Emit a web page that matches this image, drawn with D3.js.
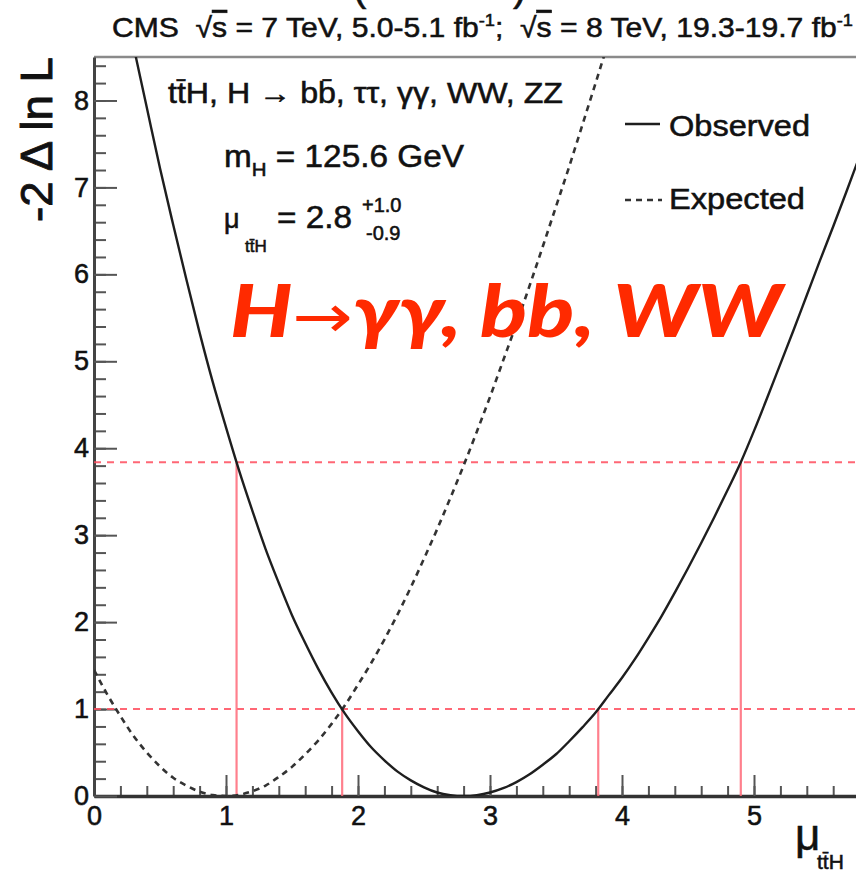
<!DOCTYPE html>
<html>
<head>
<meta charset="utf-8">
<script src="https://cdn.jsdelivr.net/npm/d3@7"></script>
<style>
  body { margin: 0; background: #fff; }
  svg { display: block; }
  text { font-family: "Liberation Sans", Arial, Helvetica, sans-serif; white-space: pre; }
  .ink { fill: #111; stroke: #111; stroke-width: 0.55px; }
</style>
</head>
<body>
<svg id="chart" width="856" height="875"></svg>
<script>
// Profile likelihood scan, -2 Δ ln L versus the ttH signal strength
const muObserved = [0.3, 0.4, 0.5, 0.6, 0.7, 0.8, 0.9, 1.0, 1.1, 1.2, 1.3, 1.4, 1.5, 1.6, 1.7, 1.8, 1.9, 2.0,
  2.1, 2.2, 2.3, 2.4, 2.5, 2.6, 2.7, 2.8, 2.9, 3.0, 3.1, 3.2, 3.3, 3.4, 3.5, 3.6, 3.7, 3.8, 3.9, 4.0,
  4.1, 4.2, 4.3, 4.4, 4.5, 4.6, 4.7, 4.8, 4.9, 5.0, 5.1, 5.2, 5.3, 5.4, 5.5, 5.6, 5.7, 5.8, 5.9, 6.0];
const nllObserved = [8.62, 7.92, 7.22, 6.57, 5.94, 5.33, 4.76, 4.24, 3.74, 3.28, 2.84, 2.45, 2.08, 1.76, 1.46, 1.19, 0.95, 0.745,
  0.56, 0.41, 0.28, 0.18, 0.10, 0.04, 0.01, 0.0, 0.01, 0.04, 0.09, 0.16, 0.25, 0.36, 0.48, 0.63, 0.79, 0.96, 1.16, 1.36,
  1.58, 1.82, 2.07, 2.34, 2.62, 2.91, 3.21, 3.52, 3.84, 4.20, 4.58, 4.97, 5.36, 5.76, 6.16, 6.55, 6.95, 7.36, 7.78, 8.20];

const muExpected = [0.0, 0.1, 0.2, 0.3, 0.4, 0.5, 0.6, 0.7, 0.8, 0.9, 1.0, 1.1, 1.2, 1.3, 1.4, 1.5, 1.6, 1.7, 1.8, 1.9,
  2.0, 2.1, 2.2, 2.3, 2.4, 2.5, 2.6, 2.7, 2.8, 2.9, 3.0, 3.1, 3.2, 3.3, 3.4, 3.5, 3.6, 3.7, 3.8, 3.9];
const nllExpected = [1.45, 1.17, 0.92, 0.69, 0.50, 0.34, 0.21, 0.12, 0.05, 0.01, 0.0, 0.014, 0.055, 0.12, 0.22, 0.335, 0.48, 0.64, 0.83, 1.04,
  1.28, 1.53, 1.80, 2.09, 2.40, 2.73, 3.07, 3.43, 3.80, 4.19, 4.59, 5.01, 5.43, 5.87, 6.32, 6.78, 7.24, 7.72, 8.20, 8.69];

// 68% and 95% CL thresholds and where the observed curve crosses them
const clLevels = [1, 3.84];
const intervalMu = [1.08, 1.88, 3.82, 4.90];
const intervalLevel = [3.84, 1, 1, 3.84];

const xTickValues = [0, 1, 2, 3, 4, 5];
const yTickValues = [0, 1, 2, 3, 4, 5, 6, 7, 8];

const svg = d3.select("#chart");
const frame = { left: 94, right: 886, top: 57, bottom: 796 };

const x = d3.scaleLinear().domain([0, 6]).range([frame.left, frame.right]);
const y = d3.scaleLinear().domain([0, 8.5]).range([frame.bottom, frame.top]);

svg.append("defs").append("clipPath").attr("id", "plotArea")
  .append("rect").attr("x", frame.left).attr("y", frame.top)
  .attr("width", frame.right - frame.left).attr("height", frame.bottom - frame.top);

// frame top edge
svg.append("line").attr("x1", frame.left).attr("x2", frame.right).attr("y1", frame.top).attr("y2", frame.top)
  .attr("stroke", "#8a8a8a").attr("stroke-width", 2.5);

// minor ticks
const minorX = d3.range(0, 6.001, 0.2).map(v => +v.toFixed(1));
const minorY = d3.range(0, 8.5, 0.2).map(v => +v.toFixed(1));

svg.append("g").attr("transform", `translate(0,${frame.bottom})`)
  .call(d3.axisBottom(x).tickValues(minorX).tickSizeInner(-10).tickSizeOuter(0).tickFormat(""))
  .call(g => g.select(".domain").remove())
  .call(g => g.selectAll("line").attr("stroke", "#555").attr("stroke-width", 2));
svg.append("g").attr("transform", `translate(${frame.left},0)`)
  .call(d3.axisLeft(y).tickValues(minorY).tickSizeInner(-12).tickSizeOuter(0).tickFormat(""))
  .call(g => g.select(".domain").remove())
  .call(g => g.selectAll("line").attr("stroke", "#555").attr("stroke-width", 2));

// major ticks and labels
const xAxis = svg.append("g").attr("transform", `translate(0,${frame.bottom})`)
  .call(d3.axisBottom(x).tickValues(xTickValues).tickSizeInner(-21).tickSizeOuter(0).tickPadding(10).tickFormat(d3.format("d")));
xAxis.select(".domain").attr("stroke", "#333").attr("stroke-width", 3.5);
xAxis.selectAll("line").attr("stroke", "#555").attr("stroke-width", 2);
xAxis.selectAll("text").attr("class", "ink").style("font-size", "27px")
  .style("font-family", "'Liberation Sans', Arial, sans-serif");

const yAxis = svg.append("g").attr("transform", `translate(${frame.left},0)`)
  .call(d3.axisLeft(y).tickValues(yTickValues).tickSizeInner(-23).tickSizeOuter(0).tickPadding(5).tickFormat(d3.format("d")));
yAxis.select(".domain").attr("stroke", "#444").attr("stroke-width", 3);
yAxis.selectAll("line").attr("stroke", "#555").attr("stroke-width", 2);
yAxis.selectAll("text").attr("class", "ink").style("font-size", "27px")
  .style("font-family", "'Liberation Sans', Arial, sans-serif");

// CL threshold lines
const plot = svg.append("g").attr("clip-path", "url(#plotArea)");
plot.selectAll("line.level").data(clLevels).join("line").attr("class", "level")
  .attr("x1", frame.left).attr("x2", frame.right)
  .attr("y1", d => y(d)).attr("y2", d => y(d))
  .attr("stroke", "#ff4d5e").attr("stroke-width", 2).attr("stroke-dasharray", "7,6").attr("opacity", 0.85);

plot.selectAll("line.interval").data(intervalMu).join("line").attr("class", "interval")
  .attr("x1", d => x(d)).attr("x2", d => x(d))
  .attr("y1", y(0)).attr("y2", (d, i) => y(intervalLevel[i]))
  .attr("stroke", "#ff6b7a").attr("stroke-width", 2.2).attr("opacity", 0.85);

// likelihood curves
const line = d3.line().x(d => x(d[0])).y(d => y(d[1])).curve(d3.curveMonotoneX);
plot.append("path").datum(muExpected.map((m, i) => [m, nllExpected[i]]))
  .attr("d", line).attr("fill", "none").attr("stroke", "#333")
  .attr("stroke-width", 2.6).attr("stroke-dasharray", "6,5");
plot.append("path").datum(muObserved.map((m, i) => [m, nllObserved[i]]))
  .attr("d", line).attr("fill", "none").attr("stroke", "#1e1e1e").attr("stroke-width", 2.4);

// axis titles
svg.append("text").attr("class", "ink").attr("transform", "translate(52,57) rotate(-90)")
  .attr("text-anchor", "end").style("font-size", "45px").style("stroke-width", "0.9px")
  .attr("textLength", 165).attr("lengthAdjust", "spacingAndGlyphs")
  .text("-2 Δ ln L");

const xTitle = svg.append("text").attr("class", "ink").attr("x", 795).attr("y", 850).style("font-size", "44px");
xTitle.append("tspan").text("μ");
xTitle.append("tspan").attr("x", 817).attr("y", 869).style("font-size", "21px").text("tt̄H");

// header
const header = svg.append("text").attr("class", "ink").attr("x", 112).attr("y", 37).style("font-size", "28px");
header.append("tspan").text("CMS  √");
header.append("tspan").style("text-decoration", "overline").text("s");
header.append("tspan").text(" = 7 TeV, 5.0-5.1 fb");
header.append("tspan").attr("dy", -11).style("font-size", "17px").text("-1");
header.append("tspan").attr("dy", 11).text(";  √");
header.append("tspan").style("text-decoration", "overline").text("s");
header.append("tspan").text(" = 8 TeV, 19.3-19.7 fb");
header.append("tspan").attr("dy", -11).style("font-size", "17px").text("-1");
header.attr("textLength", 741).attr("lengthAdjust", "spacingAndGlyphs");

// parentheses of the line above, clipped by the top edge
svg.append("text").attr("class", "ink").attr("x", 353).attr("y", 1).style("font-size", "40px").text("(");
svg.append("text").attr("class", "ink").attr("x", 513).attr("y", 1).style("font-size", "40px").text(")");

// analysis information
svg.append("text").attr("class", "ink").attr("x", 168).attr("y", 103).style("font-size", "29px")
  .attr("textLength", 395).attr("lengthAdjust", "spacingAndGlyphs")
  .text("tt̄H, H → bb̄, ττ, γγ, WW, ZZ");

const mass = svg.append("text").attr("class", "ink").attr("x", 224).attr("y", 167).style("font-size", "31px");
mass.append("tspan").text("m");
mass.append("tspan").attr("dy", 9).style("font-size", "19px").text("H");
mass.append("tspan").attr("dy", -9).text(" = 125.6 GeV");
mass.attr("textLength", 240).attr("lengthAdjust", "spacingAndGlyphs");

const fit = svg.append("g");
fit.append("text").attr("class", "ink").attr("x", 224).attr("y", 228).style("font-size", "27px").text("μ");
fit.append("text").attr("class", "ink").attr("x", 245).attr("y", 252).style("font-size", "17px").text("tt̄H");
fit.append("text").attr("class", "ink").attr("x", 277).attr("y", 228).style("font-size", "31px")
  .attr("textLength", 75).attr("lengthAdjust", "spacingAndGlyphs").text("= 2.8");
fit.append("text").attr("class", "ink").attr("x", 362).attr("y", 212).style("font-size", "20px").text("+1.0");
fit.append("text").attr("class", "ink").attr("x", 366).attr("y", 240).style("font-size", "20px").text("-0.9");

// legend
svg.append("line").attr("x1", 625).attr("x2", 660).attr("y1", 124).attr("y2", 124)
  .attr("stroke", "#1e1e1e").attr("stroke-width", 2.4);
svg.append("text").attr("class", "ink").attr("x", 669).attr("y", 136).style("font-size", "30px")
  .attr("textLength", 141).attr("lengthAdjust", "spacingAndGlyphs").text("Observed");
svg.append("line").attr("x1", 625).attr("x2", 662).attr("y1", 200).attr("y2", 200)
  .attr("stroke", "#333").attr("stroke-width", 2.6).attr("stroke-dasharray", "6,5");
svg.append("text").attr("class", "ink").attr("x", 669).attr("y", 209).style("font-size", "30px")
  .attr("textLength", 136).attr("lengthAdjust", "spacingAndGlyphs").text("Expected");

// decay channel annotation
const channel = svg.append("text").attr("x", 230).attr("y", 337).attr("fill", "#ff2a00")
  .style("font-family", "Lato, 'Open Sans', sans-serif").style("font-size", "72px")
  .style("font-weight", "900").style("font-style", "italic");
channel.append("tspan").text("H");
channel.append("tspan").style("font-family", "'DejaVu Sans', sans-serif").style("font-weight", "normal")
  .style("font-style", "normal").style("font-size", "60px").text("→");
channel.append("tspan").text("γγ, bb, WW");
channel.attr("textLength", 552).attr("lengthAdjust", "spacingAndGlyphs");
</script>
</body>
</html>
